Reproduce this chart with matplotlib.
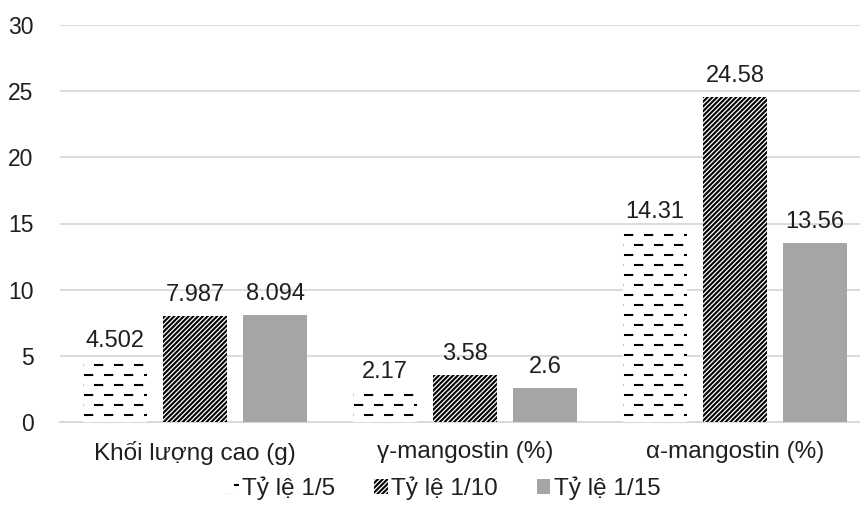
import numpy as np
import matplotlib
matplotlib.use("Agg")
import matplotlib.pyplot as plt
from matplotlib import hatch as mhatch
from matplotlib.path import Path

categories = ["Khối lượng cao (g)", "γ-mangostin (%)", "α-mangostin (%)"]
series_names = ["Tỷ lệ 1/5", "Tỷ lệ 1/10", "Tỷ lệ 1/15"]
ratio_1_5 = [4.502, 2.17, 14.31]
ratio_1_10 = [7.987, 3.58, 24.58]
ratio_1_15 = [8.094, 2.6, 13.56]
label_1_5 = ["4.502", "2.17", "14.31"]
label_1_10 = ["7.987", "3.58", "24.58"]
label_1_15 = ["8.094", "2.6", "13.56"]
y_ticks = [0, 5, 10, 15, 20, 25, 30]


class DashedHorizontalHatch(mhatch.HatchPatternBase):
    """Staggered short dashes, used in place of the plain '-' hatch."""

    def __init__(self, hatch, density):
        self.rows = 10 if hatch.count('-') else 0
        self.cols = 5
        self.num_vertices = self.rows * (self.cols + 1) * 2

    def set_vertices_and_codes(self, vertices, codes):
        dash = 0.36 / self.cols
        step = 1.0 / self.cols
        k = 0
        for r in range(self.rows):
            y = (r + 0.5) / self.rows
            shift = 0.0 if r % 2 == 0 else step / 2
            for c in range(-1, self.cols):
                x0 = c * step + shift + 0.25 * step
                vertices[k] = (x0, y)
                vertices[k + 1] = (x0 + dash, y)
                codes[k] = Path.MOVETO
                codes[k + 1] = Path.LINETO
                k += 2


mhatch._hatch_types = [DashedHorizontalHatch if t is mhatch.HorizontalHatch else t
                       for t in mhatch._hatch_types]

plt.rcParams['font.family'] = ['Liberation Sans', 'DejaVu Sans']
plt.rcParams['hatch.linewidth'] = 1.5

fig = plt.figure(figsize=(8.6, 5.16), dpi=100)
ax = fig.add_axes([60 / 860, 1 - 422 / 516, 800 / 860, (422 - 25) / 516])

x = np.arange(len(categories))
width = 0.237
offset = 0.297
gray = "#A5A5A5"
text_color = "#1F1F1F"

series = [ratio_1_5, ratio_1_10, ratio_1_15]
labels = [label_1_5, label_1_10, label_1_15]
styles = [dict(color="white", edgecolor="black", hatch="-"),
          dict(color="white", edgecolor="black", hatch="///////"),
          dict(color=gray, edgecolor=gray)]

handles = []
for i, (vals, st) in enumerate(zip(series, styles)):
    bars = ax.bar(x + (i - 1) * offset, vals, width, linewidth=0,
                  label=series_names[i], zorder=3, **st)
    handles.append(bars)
    for b, txt in zip(bars, labels[i]):
        ax.text(b.get_x() + b.get_width() / 2, b.get_height() + 0.75, txt,
                ha="center", va="bottom", fontsize=17, color=text_color)

ax.set_ylim(0, 30)
ax.set_xlim(-0.5, 2.463)
ax.set_yticks(y_ticks)
ax.set_yticklabels([str(t) for t in y_ticks], fontsize=16.5, color=text_color)
ax.set_xticks(x)
ax.set_xticklabels(categories, fontsize=17.5, color=text_color)
ax.tick_params(axis="both", length=0)
ax.tick_params(axis="y", pad=19)
ax.tick_params(axis="x", pad=14)
ax.grid(axis="y", color="#D9D9D9", linewidth=1.3, zorder=0)
for s in ["top", "right", "left"]:
    ax.spines[s].set_visible(False)
ax.spines["bottom"].set_color("#D9D9D9")
ax.spines["bottom"].set_linewidth(1.5)

fig.legend(handles=handles, loc="center", bbox_to_anchor=(443 / 860, 1 - 488 / 516),
           ncol=3, frameon=False, fontsize=17.5, handlelength=0.55, handleheight=0.55,
           handletextpad=0.15, columnspacing=1.6, labelcolor=text_color)

fig.savefig("out.png", dpi=100)
